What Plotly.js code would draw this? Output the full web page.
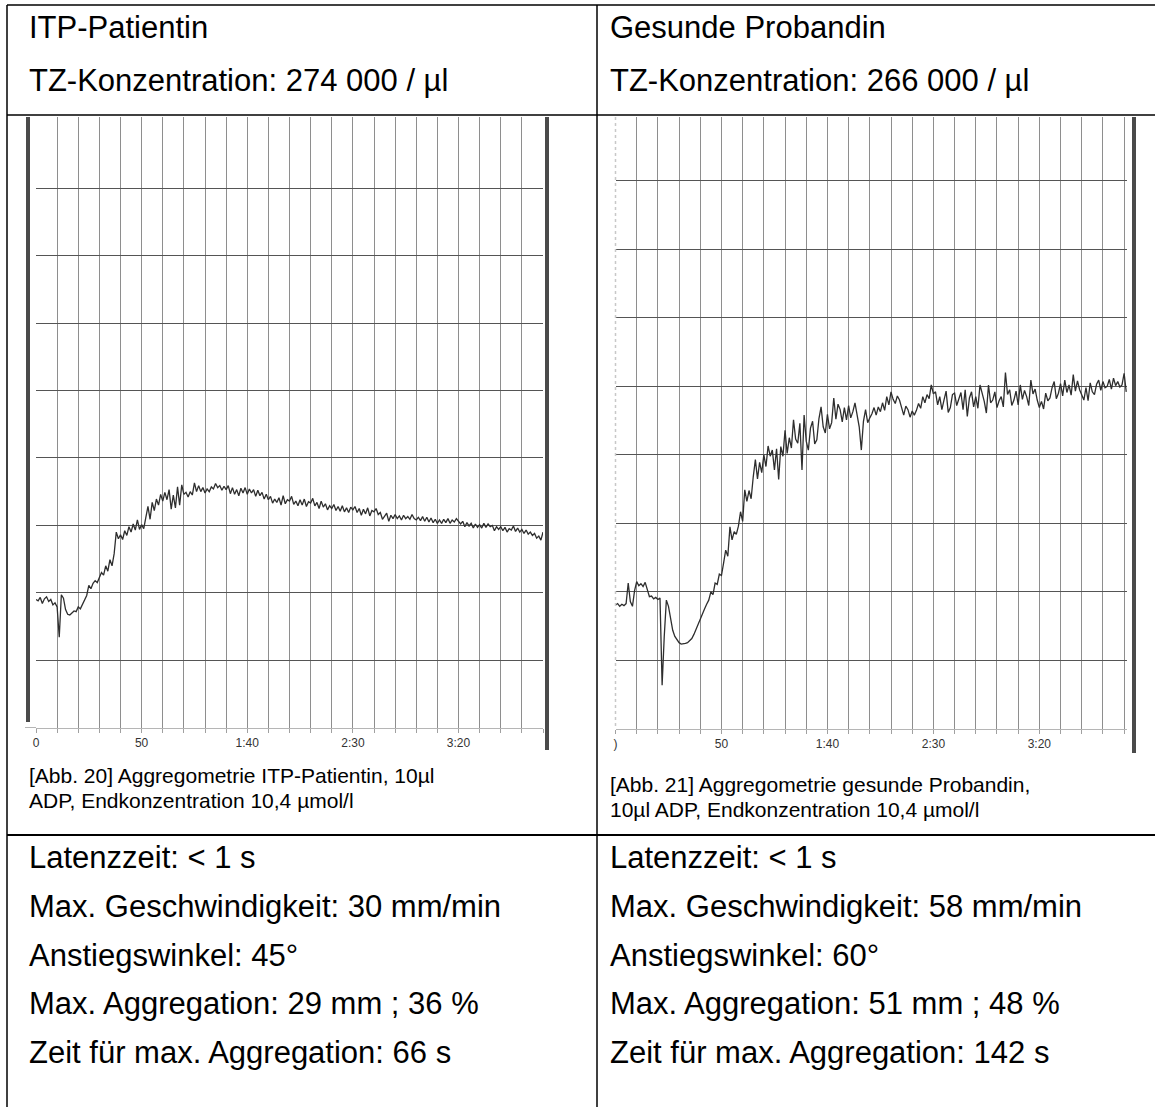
<!DOCTYPE html>
<html><head><meta charset="utf-8">
<script src="https://cdn.plot.ly/plotly-3.0.1.min.js"></script>
<style>html,body{margin:0;padding:0;background:#fff;}#chart{width:1155px;height:1107px;}</style>
</head><body><div id="chart"></div>
<script>
// ---- data (time in s, signal in grid units x10) ----
const sampleStepSec = 1;
const tickVals = [0,10,20,30,40,50,60,70,80,90,100,110,120,130,140,150,160,170,180,190,200,210,220,230,240];
const tickLabelsLeft = ["0","","","","","50","","","","","1:40","","","","","2:30","","","","","3:20","","","",""];
const tickLabelsRight = [")","","","","","50","","","","","1:40","","","","","2:30","","","","","3:20","","","",""];
const hGridVals = [10,20,30,40,50,60,70,80];

const itpSignal = [19.0,18.8,19.3,18.4,19.1,19.4,18.7,19.0,18.2,18.5,17.9,
13.4,19.7,19.2,17.5,16.8,16.7,17.0,17.3,17.2,17.9,
17.6,18.3,18.8,19.6,21.1,20.6,21.4,21.8,21.5,22.4,
23.0,22.6,24.0,23.2,24.9,24.0,25.8,29.0,28.0,28.6,
27.9,29.2,28.5,29.8,29.0,30.2,29.3,30.8,29.4,30.1,
29.5,31.2,32.8,30.9,33.4,32.2,33.9,33.0,34.6,33.6,
34.9,33.8,35.3,32.4,34.5,32.6,35.7,33.0,36.0,34.6,
34.9,34.2,35.0,34.5,36.3,35.0,35.9,35.0,35.6,34.8,
35.4,35.0,35.7,35.4,36.2,35.6,35.9,35.2,35.8,35.3,
35.9,34.7,35.6,34.6,35.3,34.4,35.5,34.8,35.6,34.6,
35.4,34.8,35.3,34.3,35.2,34.4,34.9,33.9,34.6,33.8,
34.3,33.3,33.9,33.4,34.1,33.0,34.4,33.2,33.8,33.6,
34.3,33.1,33.6,32.9,33.8,33.0,33.9,32.8,33.5,33.3,
34.0,32.9,33.4,32.5,33.6,32.7,33.2,32.3,32.9,32.5,
33.1,32.2,32.8,32.1,32.9,32.0,32.6,31.9,32.7,32.3,
32.8,31.9,32.5,31.5,32.4,31.7,32.6,31.4,32.2,32.0,
32.5,31.6,31.9,30.9,31.3,31.8,30.6,31.5,31.0,31.6,
31.0,31.4,30.8,31.5,31.0,31.3,30.9,31.6,31.0,30.8,
31.2,30.7,31.3,30.6,31.2,30.5,31.1,30.4,30.9,30.3,
30.8,30.3,30.9,30.4,31.0,30.3,30.8,30.5,31.0,30.6,
30.2,30.6,29.8,30.4,29.9,30.3,29.6,30.2,29.7,30.1,
29.6,30.3,29.7,30.2,29.8,30.0,29.2,29.8,29.4,29.8,
29.2,29.7,29.0,29.5,29.3,29.9,29.1,29.6,29.0,29.4,
28.8,29.3,28.7,29.0,28.5,28.8,28.1,28.4,27.8,29.0];

const healthySignal = [18.1,18.3,17.9,18.2,18.0,18.3,21.3,18.6,17.9,20.2,
21.5,20.9,21.2,20.8,21.4,20.5,19.3,19.4,19.0,19.2,
18.9,19.1,6.4,13.5,18.8,17.9,16.0,14.4,13.5,13.0,
12.6,12.4,12.4,12.5,12.6,12.9,13.2,13.8,14.6,15.3,
16.2,16.7,17.5,18.2,18.8,20.0,19.6,21.3,21.1,22.6,
22.4,24.2,26.1,25.2,29.5,27.6,28.8,28.4,29.6,31.7,
30.3,34.9,33.2,34.8,33.6,36.8,39.3,36.5,38.9,37.4,
40.0,38.3,41.3,39.8,40.7,37.8,40.9,36.4,41.2,39.8,
43.6,40.2,42.5,41.0,45.1,42.3,41.7,44.6,37.8,45.8,
42.0,40.7,43.9,44.9,41.6,42.2,45.3,47.0,44.1,43.2,
45.9,43.8,44.7,48.3,45.2,47.4,46.6,44.8,46.9,45.1,
47.2,45.4,46.3,47.6,45.6,44.1,40.7,44.9,46.6,44.7,
45.4,46.0,46.9,45.8,47.0,46.3,47.6,46.5,48.5,47.3,
49.2,48.1,47.5,48.6,48.0,46.9,45.8,47.1,46.6,45.5,
46.4,45.8,46.5,47.5,46.8,48.5,47.6,48.8,48.2,50.2,
48.9,49.2,47.3,48.5,46.6,48.0,49.3,46.2,46.9,48.8,
49.0,47.2,48.0,49.1,46.6,49.5,45.6,48.3,49.2,47.0,
48.5,46.8,50.2,49.0,47.8,46.1,50.2,47.6,48.0,49.2,
46.9,47.9,48.5,47.0,52.0,48.8,49.5,47.2,48.0,49.3,
47.3,50.2,48.1,49.4,48.5,47.2,50.9,48.9,49.6,48.0,
46.9,47.8,46.7,49.0,47.9,48.3,49.8,50.7,48.2,49.0,
50.4,48.6,50.9,49.1,50.2,48.7,51.7,49.3,50.8,49.5,
48.6,48.0,49.8,47.9,50.5,49.2,48.8,50.3,50.9,49.4,
50.7,49.8,50.0,51.0,49.6,51.2,50.1,50.7,49.9,50.2,
51.9,49.2];

const headerLeft = ["ITP-Patientin", "TZ-Konzentration: 274 000 / µl"];
const headerRight = ["Gesunde Probandin", "TZ-Konzentration: 266 000 / µl"];
const captionLeft = ["[Abb. 20] Aggregometrie ITP-Patientin, 10µl", "ADP, Endkonzentration 10,4 µmol/l"];
const captionRight = ["[Abb. 21] Aggregometrie gesunde Probandin,", "10µl ADP, Endkonzentration 10,4 µmol/l"];
const resultsLeft = ["Latenzzeit: < 1 s", "Max. Geschwindigkeit: 30 mm/min", "Anstiegswinkel: 45°", "Max. Aggregation: 29 mm ; 36 %", "Zeit für max. Aggregation: 66 s"];
const resultsRight = ["Latenzzeit: < 1 s", "Max. Geschwindigkeit: 58 mm/min", "Anstiegswinkel: 60°", "Max. Aggregation: 51 mm ; 48 %", "Zeit für max. Aggregation: 142 s"];

// ---- layout helpers (pixel -> paper) ----
const W = 1155, H = 1107;
const px = x => x / W;
const py = y => 1 - y / H;

const tLeft = itpSignal.map((_, i) => i * sampleStepSec);
const tRight = healthySignal.map((_, i) => i * sampleStepSec);

const FONT = "Arial, 'Liberation Sans', sans-serif";
const lineStyle = {color: '#2e2e2e', width: 1.3};

const traces = [
  {x: tLeft, y: itpSignal, type: 'scatter', mode: 'lines', line: lineStyle, xaxis: 'x', yaxis: 'y', hoverinfo: 'skip'},
  {x: tRight, y: healthySignal, type: 'scatter', mode: 'lines', line: lineStyle, xaxis: 'x2', yaxis: 'y2', hoverinfo: 'skip'}
];

function xAxis(domain, range, labels, anchor) {
  return {
    domain: domain, range: range, anchor: anchor,
    tickmode: 'array', tickvals: tickVals, ticktext: labels,
    showgrid: true, gridcolor: '#8e8e8e', gridwidth: 1,
    zeroline: false, showline: true, linecolor: '#b5b5b5', linewidth: 1,
    ticks: 'outside', ticklen: 4, tickcolor: '#a0a0a0', tickwidth: 1,
    tickfont: {family: FONT, size: 12, color: '#333'}, fixedrange: true
  };
}
function yAxis(domain, range, anchor) {
  return {
    domain: domain, range: range, anchor: anchor,
    tickmode: 'array', tickvals: hGridVals, showticklabels: false,
    showgrid: true, gridcolor: '#555', gridwidth: 1,
    zeroline: false, showline: false, ticks: '', fixedrange: true
  };
}

const annotations = [];
function txt(x, y, s, size) {
  annotations.push({xref: 'paper', yref: 'paper', x: px(x), y: py(y), text: s, showarrow: false,
    xanchor: 'left', yanchor: 'middle', borderpad: 0, font: {family: FONT, size: size, color: '#000'}});
}
const BIG = 31, CAP = 21;
txt(28, 28, headerLeft[0], BIG); txt(28, 80, headerLeft[1], BIG);
txt(609, 28, headerRight[0], BIG); txt(609, 80, headerRight[1], BIG);
txt(28, 775, captionLeft[0], CAP); txt(28, 800, captionLeft[1], CAP);
txt(609, 784, captionRight[0], CAP); txt(609, 809, captionRight[1], CAP);
const rowY = [857, 906, 955, 1003, 1052];
resultsLeft.forEach((s, i) => txt(28, rowY[i], s, BIG));
resultsRight.forEach((s, i) => txt(609, rowY[i], s, BIG));

const shapes = [];
function pline(x0, y0, x1, y1, color, width, dash) {
  shapes.push({type: 'line', xref: 'paper', yref: 'paper', x0: px(x0), y0: py(y0), x1: px(x1), y1: py(y1),
    line: {color: color, width: width, dash: dash || 'solid'}});
}
// table borders
pline(7, 5, 1155, 5, '#000', 1.5);
pline(7, 115, 1155, 115, '#000', 1.5);
pline(7, 835, 1155, 835, '#000', 2);
pline(7, 5, 7, 1107, '#000', 1.5);
pline(597, 5, 597, 1107, '#000', 1.5);
// recorder paper edges
pline(28, 117, 28, 722, '#4a4a4a', 4);
pline(547, 117, 547, 750, '#4a4a4a', 4);
pline(1134, 117, 1134, 753, '#4a4a4a', 4);
pline(615.5, 117, 615.5, 729, '#c8c8c8', 1.5, 'dot');
pline(25, 727.5, 36, 727.5, '#b5b5b5', 1);

const layout = {
  width: W, height: H, margin: {l: 0, r: 0, t: 0, b: 0},
  paper_bgcolor: '#fff', plot_bgcolor: '#fff', showlegend: false,
  xaxis: xAxis([px(36), px(543)], [0, 240], tickLabelsLeft, 'y'),
  yaxis: yAxis([py(727.5), py(117)], [0, 90.6], 'x'),
  xaxis2: xAxis([px(615.5), px(1127.3)], [0, 241.5], tickLabelsRight, 'y2'),
  yaxis2: yAxis([py(729), py(117)], [0, 89.3], 'x2'),
  annotations: annotations, shapes: shapes
};

Plotly.newPlot('chart', traces, layout, {displayModeBar: false, staticPlot: true});
</script></body></html>
